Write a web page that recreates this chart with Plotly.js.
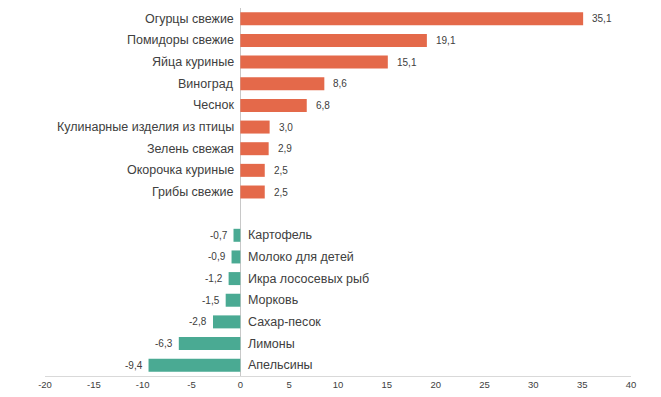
<!DOCTYPE html>
<html><head><meta charset="utf-8">
<script src="https://cdn.plot.ly/plotly-3.0.1.min.js"></script>
<style>html,body{margin:0;padding:0;background:#fff}</style>
</head><body>
<div id="chart" style="width:661px;height:397px"></div>
<script>
var posCategories = ["Огурцы свежие","Помидоры свежие","Яйца куриные","Виноград","Чеснок","Кулинарные изделия из птицы","Зелень свежая","Окорочка куриные","Грибы свежие"];
var posValues = [35.1, 19.1, 15.1, 8.6, 6.8, 3.0, 2.9, 2.5, 2.5];
var negCategories = ["Картофель","Молоко для детей","Икра лососевых рыб","Морковь","Сахар-песок","Лимоны","Апельсины"];
var negValues = [-0.7, -0.9, -1.2, -1.5, -2.8, -6.3, -9.4];
var spacer = " ";
var xTicks = [-20,-15,-10,-5,0,5,10,15,20,25,30,35,40];

var order = posCategories.concat([spacer]).concat(negCategories);
var font = "Liberation Sans, Arial, sans-serif";
function fmt(v){ return v.toFixed(1).replace('.', ','); }

var traces = [
  {type:"bar", orientation:"h", y:posCategories, x:posValues, width:0.6,
   marker:{color:"#E4694A"}, hoverinfo:"none"},
  {type:"bar", orientation:"h", y:negCategories, x:negValues, width:0.6,
   marker:{color:"#4AAA93"}, hoverinfo:"none"}
];

var annotations = [];
posCategories.forEach(function(c, i){
  annotations.push({x:0, y:c, xref:"x", yref:"y", text:c, showarrow:false, xanchor:"right", xshift:-4,
    font:{size:12.5, color:"#404040", family:font}});
  annotations.push({x:posValues[i], y:c, xref:"x", yref:"y", text:fmt(posValues[i]), showarrow:false, xanchor:"left", xshift:7,
    font:{size:10, color:"#404040", family:font}});
});
negCategories.forEach(function(c, i){
  annotations.push({x:0, y:c, xref:"x", yref:"y", text:c, showarrow:false, xanchor:"left", xshift:6,
    font:{size:12.5, color:"#404040", family:font}});
  annotations.push({x:negValues[i], y:c, xref:"x", yref:"y", text:fmt(negValues[i]), showarrow:false, xanchor:"right", xshift:-4,
    font:{size:10, color:"#404040", family:font}});
});

var layout = {
  width:661, height:397,
  margin:{l:45, r:30, t:8, b:21},
  paper_bgcolor:"#fff", plot_bgcolor:"#fff",
  barmode:"overlay",
  showlegend:false,
  separators:", ",
  xaxis:{range:[-20,40], tickvals:xTicks, ticktext:xTicks.map(String), showgrid:false,
    zeroline:true, zerolinecolor:"#C8C8C8", zerolinewidth:1.5,
    showline:true, linecolor:"#D9D9D9", linewidth:1, ticks:"",
    tickfont:{size:9.5, color:"#404040", family:font}, fixedrange:true},
  yaxis:{type:"category", categoryorder:"array", categoryarray:order, autorange:false,
    range:[order.length-0.5, -0.5], showticklabels:false, showgrid:false, zeroline:false, showline:false, ticks:""},
  annotations:annotations,
  font:{family:font}
};

Plotly.newPlot("chart", traces, layout, {staticPlot:true, displayModeBar:false});
</script>
</body></html>
